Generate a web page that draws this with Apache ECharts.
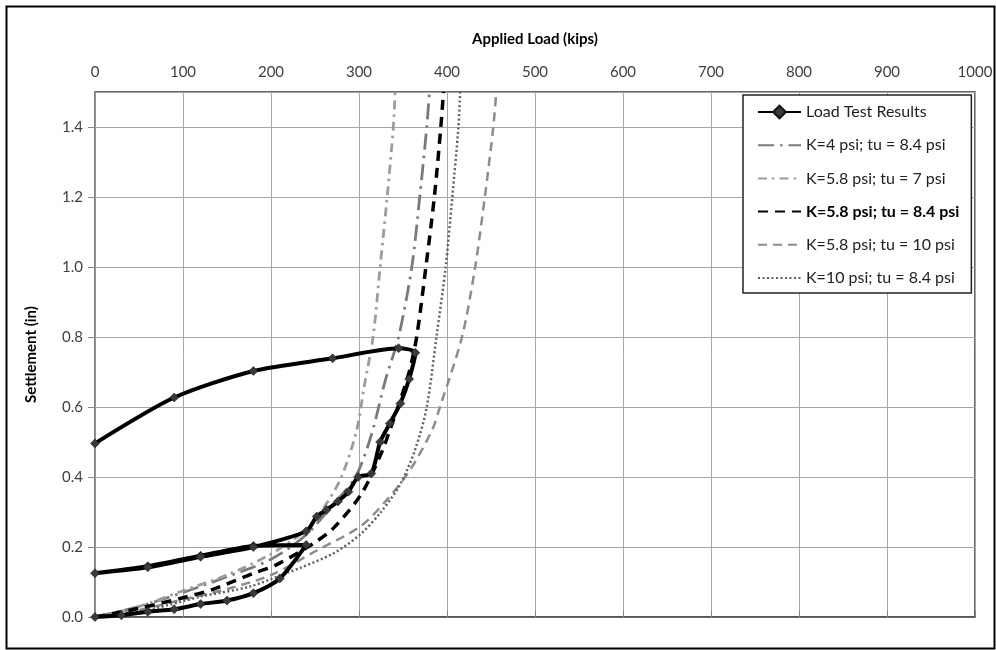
<!DOCTYPE html>
<html>
<head>
<meta charset="utf-8">
<script src="https://cdn.jsdelivr.net/npm/echarts@6/dist/echarts.min.js"></script>
<style>
html,body{margin:0;padding:0;background:#fff;}
#chart{width:996px;height:650px;}
</style>
</head>
<body>
<div id="chart"></div>
<script>
// ---- Data ----
const seriesNames = [
  'Load Test Results',
  'K=4 psi; tu = 8.4 psi',
  'K=5.8 psi; tu = 7 psi',
  'K=5.8 psi; tu = 8.4 psi',
  'K=5.8 psi; tu = 10 psi',
  'K=10 psi; tu = 8.4 psi'
];
const xTicks = [0,100,200,300,400,500,600,700,800,900,1000];
const yTicks = [0,0.2,0.4,0.6,0.8,1.0,1.2,1.4];

const loadTestLoad   = [0,30,60,90,120,150,180,210,240, 180,120,60,0, 60,120,180,240,252,263,276,288,299,314,324,335,347,357,364, 345,270,180,90,0];
const loadTestSettle = [0,0.005,0.015,0.022,0.037,0.047,0.068,0.11,0.206, 0.203,0.175,0.145,0.125, 0.142,0.172,0.2,0.245,0.287,0.306,0.33,0.358,0.4,0.41,0.5,0.553,0.61,0.68,0.755, 0.768,0.739,0.703,0.627,0.496];

const k4Load   = [0,50,100,150,200,240,270,296,314,330,345,360,369,377,380];
const k4Settle = [0,0.03,0.07,0.115,0.165,0.235,0.32,0.40,0.52,0.677,0.8,1.0,1.2,1.4,1.5];

const tu7Load   = [0,50,100,150,200,240,262,280,297,306,316,324,332,339,341];
const tu7Settle = [0,0.03,0.075,0.12,0.18,0.25,0.32,0.40,0.53,0.66,0.8,1.0,1.2,1.4,1.5];

const k58tu84Load   = [0,50,100,134,180,206,248,271,303,326,335,347,357,365.5,376,385.6,393,396];
const k58tu84Settle = [0,0.025,0.055,0.079,0.125,0.149,0.21,0.254,0.353,0.472,0.534,0.62,0.70,0.8,1.0,1.2,1.4,1.5];

const tu10Load   = [0,50,100,150,200,252,301,330,358,383,392,417,432,443,452.6,456];
const tu10Settle = [0,0.02,0.05,0.08,0.12,0.19,0.258,0.33,0.42,0.534,0.60,0.8,1.0,1.2,1.4,1.5];

const k10Load   = [0,50,100,119,176,222,233,271,301,325,347,364,377,388,398.5,406,413,415];
const k10Settle = [0,0.015,0.045,0.058,0.087,0.13,0.14,0.182,0.235,0.30,0.38,0.48,0.6,0.8,1.0,1.2,1.4,1.5];

function pairs(xs, ys){ return xs.map((x,i)=>[x, ys[i]]); }

const chart = echarts.init(document.getElementById('chart'), null, {renderer:'canvas'});
const FONT = 'Lato, "Open Sans", sans-serif';

const legendData = seriesNames.map((n, i) => i === 0 ? {name: n} : {name: n, itemStyle: {opacity: 0}});

const option = {
  backgroundColor: '#fff',
  animation: false,
  textStyle: {fontFamily: FONT},
  graphic: [{
    type: 'rect', left: 4, top: 4, z: 100,
    shape: {x: 0, y: 0, width: 988, height: 642},
    style: {fill: 'none', stroke: '#000', lineWidth: 2},
    silent: true
  }],
  grid: {
    left: 95, right: 21, top: 92, bottom: 33,
    show: true, borderColor: '#333', borderWidth: 1.5, backgroundColor: 'transparent'
  },
  legend: {
    orient: 'vertical',
    left: 743, top: 95,
    padding: [9, 12, 7, 14],
    itemWidth: 43, itemHeight: 16, itemGap: 17.2,
    backgroundColor: '#fff',
    borderColor: '#222', borderWidth: 1.5,
    data: legendData,
    formatter: function(name){ return name === 'K=5.8 psi; tu = 8.4 psi' ? '{b|' + name + '}' : name; },
    textStyle: {
      fontFamily: FONT, fontSize: 16, color: '#222',
      rich: {b: {fontFamily: FONT, fontSize: 16, fontWeight: 'bold', color: '#000'}}
    }
  },
  xAxis: {
    type: 'value', position: 'top',
    min: 0, max: 1000, interval: 100,
    name: 'Applied Load (kips)', nameLocation: 'middle', nameGap: 45,
    nameTextStyle: {fontFamily: FONT, fontSize: 15, fontWeight: 'bold', color: '#000'},
    axisLine: {show: true, lineStyle: {color: '#555', width: 1.5}},
    axisTick: {show: true, inside: false, length: 7, lineStyle: {color: '#888'}},
    axisLabel: {fontFamily: FONT, fontSize: 15, color: '#404040', margin: 12,
      formatter: v => xTicks.includes(v) ? String(v) : ''},
    splitLine: {show: true, lineStyle: {color: '#a6a6a6', width: 1}}
  },
  yAxis: {
    type: 'value',
    min: 0, max: 1.5, interval: 0.2,
    name: 'Settlement (in)', nameLocation: 'middle', nameGap: 56,
    nameTextStyle: {fontFamily: FONT, fontSize: 15, fontWeight: 'bold', color: '#000'},
    axisLine: {show: true, lineStyle: {color: '#8c8c8c', width: 1.5}},
    axisTick: {show: true, length: 7, lineStyle: {color: '#888'}},
    axisLabel: {fontFamily: FONT, fontSize: 15, color: '#404040', margin: 12, showMaxLabel: false,
      formatter: v => yTicks.some(t => Math.abs(t - v) < 1e-9) ? v.toFixed(1) : ''},
    splitLine: {show: true, lineStyle: {color: '#a6a6a6', width: 1}}
  },
  series: [
    {
      name: seriesNames[1], type: 'line', smooth: 0.3, symbol: 'none', z: 3,
      data: pairs(k4Load, k4Settle),
      lineStyle: {color: '#7a7a7a', width: 2.8, type: [16, 6, 2.5, 6]},
      itemStyle: {color: '#7a7a7a'}
    },
    {
      name: seriesNames[2], type: 'line', smooth: 0.3, symbol: 'none', z: 3,
      data: pairs(tu7Load, tu7Settle),
      lineStyle: {color: '#9c9c9c', width: 2.8, type: [9, 5, 2.5, 5]},
      itemStyle: {color: '#9c9c9c'}
    },
    {
      name: seriesNames[3], type: 'line', smooth: 0.3, symbol: 'none', z: 4,
      data: pairs(k58tu84Load, k58tu84Settle),
      lineStyle: {color: '#000', width: 3.5, type: [10, 7]},
      itemStyle: {color: '#000'}
    },
    {
      name: seriesNames[4], type: 'line', smooth: 0.3, symbol: 'none', z: 3,
      data: pairs(tu10Load, tu10Settle),
      lineStyle: {color: '#8c8c8c', width: 2.5, type: [9, 6]},
      itemStyle: {color: '#8c8c8c'}
    },
    {
      name: seriesNames[5], type: 'line', smooth: 0.3, symbol: 'none', z: 3,
      data: pairs(k10Load, k10Settle),
      lineStyle: {color: '#606060', width: 2.5, type: [2, 2.5]},
      itemStyle: {color: '#606060'}
    },
    {
      name: seriesNames[0], type: 'line', smooth: 0.25, z: 5,
      symbol: 'diamond', symbolSize: 9, showAllSymbol: true,
      data: pairs(loadTestLoad, loadTestSettle),
      lineStyle: {color: '#000', width: 4},
      itemStyle: {color: '#3a3a3a', borderColor: '#111', borderWidth: 0.5}
    }
  ]
};
chart.setOption(option);
</script>
</body>
</html>
